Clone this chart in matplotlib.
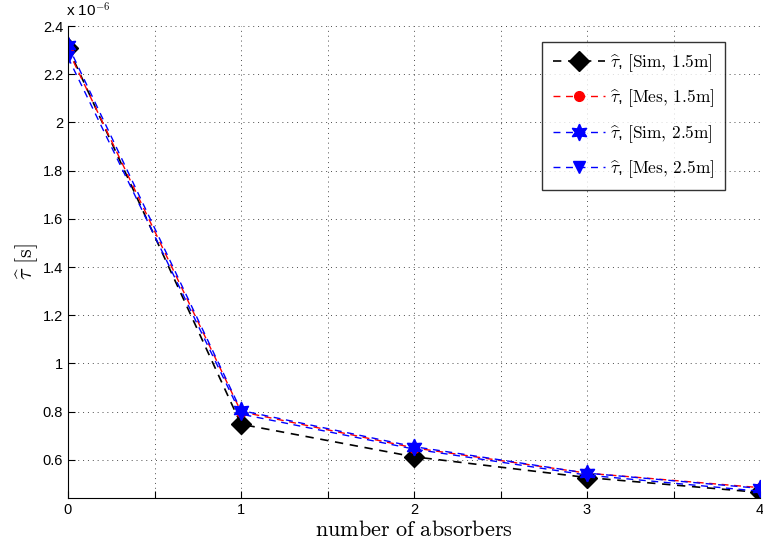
import matplotlib
matplotlib.use("Agg")
import matplotlib.pyplot as plt
from matplotlib.ticker import MultipleLocator, FuncFormatter

plt.rcParams['mathtext.fontset'] = 'cm'
plt.rcParams['font.family'] = ['Liberation Sans', 'DejaVu Sans']

absorbers = [0, 1, 2, 3, 4]
# tau-hat values in units of 1e-6 s
sim_15 = [2.31, 0.748, 0.613, 0.527, 0.465]
mes_15 = [2.30, 0.800, 0.650, 0.545, 0.485]
sim_25 = [2.32, 0.805, 0.655, 0.545, 0.482]
mes_25 = [2.27, 0.790, 0.645, 0.537, 0.470]

labels = [r'$\widehat{\tau}$, $\mathrm{[Sim,\,1.5m]}$',
          r'$\widehat{\tau}$, $\mathrm{[Mes,\,1.5m]}$',
          r'$\widehat{\tau}$, $\mathrm{[Sim,\,2.5m]}$',
          r'$\widehat{\tau}$, $\mathrm{[Mes,\,2.5m]}$']

fig = plt.figure(figsize=(7.63, 5.48), dpi=100)
ax = fig.add_axes([68/763, 1-498/548, (760-68)/763, (498-26)/548])

hexagram = (6, 1, 0)
ax.plot(absorbers, sim_15, '--', color='black', marker='D', ms=10, lw=1.2,
        dashes=(5, 4), label=labels[0])
ax.plot(absorbers, mes_15, '--', color='red', marker='o', ms=7, lw=1.0,
        dashes=(5, 4), label=labels[1])
ax.plot(absorbers, sim_25, '--', color='blue', marker=hexagram, ms=12, lw=1.0,
        dashes=(5, 4), label=labels[2])
ax.plot(absorbers, mes_25, '--', color='blue', marker='v', ms=8, lw=1.0,
        dashes=(5, 4), label=labels[3])

ax.set_xlim(0, 4)
ax.set_ylim(0.442, 2.4)
ax.xaxis.set_major_locator(MultipleLocator(0.5))
ax.xaxis.set_major_formatter(FuncFormatter(lambda v, p: f'{int(v)}' if abs(v - round(v)) < 1e-9 else ''))
ax.yaxis.set_major_locator(MultipleLocator(0.2))
ax.yaxis.set_major_formatter(FuncFormatter(lambda v, p: f'{v:g}'))
ax.tick_params(direction='in', labelsize=10.5, length=5, width=0.8)
ax.grid(True, linestyle=(0, (1, 4)), color='black', lw=0.7, alpha=0.7)

ax.spines['top'].set_visible(False)
ax.spines['right'].set_visible(False)

ax.set_xlabel(r'$\mathrm{number\ of\ absorbers}$', fontsize=16, labelpad=2)
ax.set_ylabel(r'$\widehat{\tau}\ \mathrm{[s]}$', fontsize=16, labelpad=2)
fig.text(66/763, 1-20/548, r'x 10$^{-6}$', fontsize=11, va='bottom', ha='left')

leg = ax.legend(loc='upper right', bbox_to_anchor=((725-68)/692, (498-42)/472),
                borderaxespad=0,
                fontsize=12.5, frameon=True, fancybox=False, edgecolor='black',
                handlelength=3.0, labelspacing=0.78, borderpad=0.6, handletextpad=0.3)
leg.get_frame().set_linewidth(1.0)

fig.savefig('out.png', dpi=100)
